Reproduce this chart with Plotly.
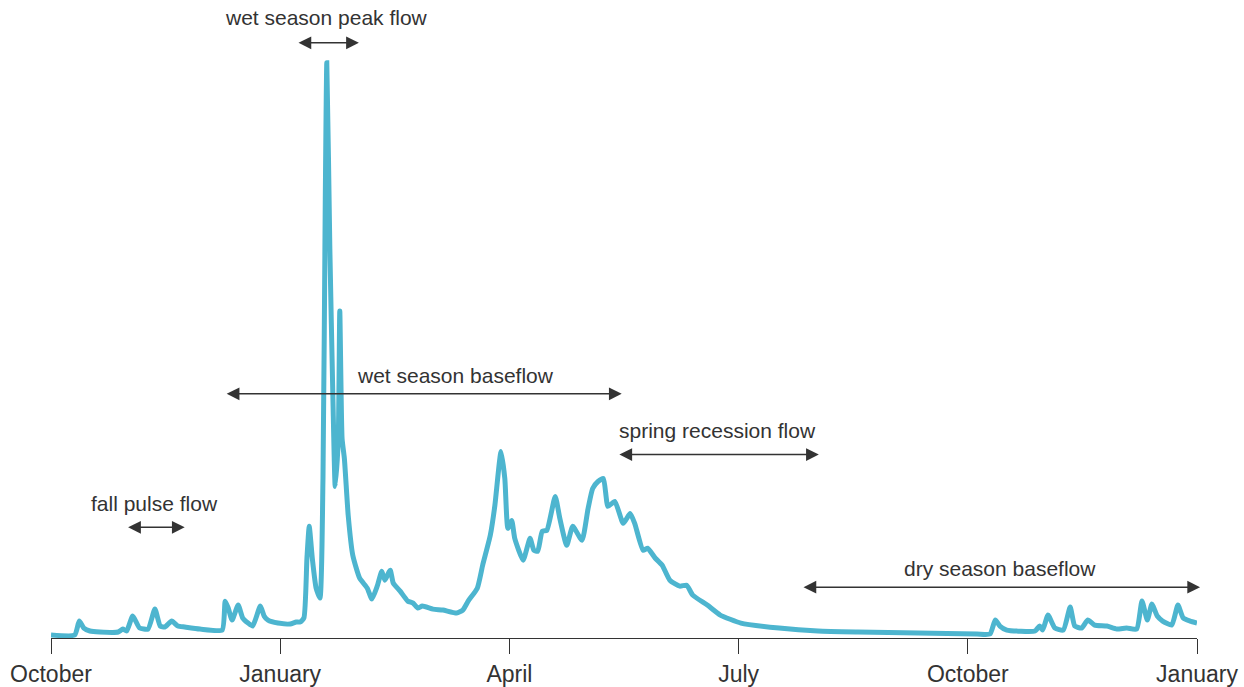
import plotly.graph_objects as go

# Months elapsed since 1 October (0 = October, 15 = January of the following year)
months = [0.00, 0.31, 0.37, 0.43, 0.51, 0.64, 0.88, 0.94, 0.99, 1.07, 1.16, 1.27, 1.36, 1.43, 1.49,
          1.58, 1.66, 1.75, 1.95, 2.24, 2.28, 2.32, 2.37, 2.45, 2.51, 2.58, 2.64, 2.74, 2.79, 2.84,
          2.97, 3.13, 3.21, 3.26, 3.31, 3.35, 3.38, 3.42, 3.47, 3.52, 3.56, 3.59, 3.61, 3.65, 3.69,
          3.72, 3.76, 3.78, 3.81, 3.84, 3.89, 3.95, 4.04, 4.14, 4.20, 4.27, 4.33, 4.37, 4.44, 4.48,
          4.57, 4.67, 4.74, 4.80, 4.86, 5.00, 5.13, 5.31, 5.39, 5.46, 5.58, 5.65, 5.75, 5.81, 5.89,
          5.94, 5.98, 6.03, 6.07, 6.18, 6.27, 6.32, 6.37, 6.43, 6.49, 6.60, 6.66, 6.75, 6.83, 6.95,
          7.03, 7.09, 7.16, 7.23, 7.29, 7.38, 7.49, 7.58, 7.64, 7.75, 7.81, 7.91, 8.00, 8.10, 8.23,
          8.32, 8.40, 8.59, 8.76, 9.03, 9.53, 10.04, 10.56, 11.35, 12.12, 12.29, 12.36, 12.42, 12.51,
          12.88, 12.94, 12.98, 13.05, 13.14, 13.25, 13.34, 13.40, 13.49, 13.57, 13.66, 13.82, 13.95,
          14.08, 14.21, 14.28, 14.35, 14.41, 14.48, 14.55, 14.67, 14.75, 14.82, 14.91, 15.00]

# Streamflow (relative units)
flow = [3, 3, 17, 10, 7, 6, 6, 9, 7, 22, 10, 9, 29, 12, 11,
        17, 12, 11, 9, 8, 37, 30, 18, 33, 20, 15, 12, 32, 22, 18,
        15, 14, 16, 16, 20, 80, 112, 80, 50, 40, 160, 440, 577, 390, 240,
        152, 200, 328, 200, 180, 123, 83, 60, 50, 39, 52, 67, 58, 68, 55,
        47, 37, 35, 30, 32, 29, 28, 25, 28, 37, 50, 73, 103, 133, 187,
        160, 110, 118, 100, 78, 100, 88, 87, 107, 108, 142, 120, 93, 112, 98,
        130, 150, 157, 160, 132, 137, 115, 125, 115, 88, 90, 80, 73, 58, 52,
        53, 43, 33, 23, 15, 10, 7, 6, 5, 4, 4, 18, 12, 8,
        7, 12, 8, 23, 10, 8, 31, 12, 10, 18, 13, 12, 9,
        10, 9, 37, 18, 34, 22, 17, 13, 33, 20, 17, 15]

tick_vals = [0, 3, 6, 9, 12, 15]
tick_text = ["October", "January", "April", "July", "October", "January"]

# Flow-period labels and their spans (months since October)
period_labels = ["wet season peak flow", "fall pulse flow", "wet season baseflow",
                 "spring recession flow", "dry season baseflow"]
period_start = [3.22, 0.99, 2.28, 7.42, 9.83]
period_end = [4.03, 1.75, 7.47, 10.05, 15.04]
label_x = [3.61, 1.36, 5.30, 8.72, 12.42]
label_y = [622, 135, 263, 208, 70]
arrow_y = [597, 111, 245, 184, 51]

FONT = "Liberation Sans, Arial, sans-serif"

fig = go.Figure()
fig.add_trace(go.Scatter(
    x=months, y=flow, mode="lines",
    line=dict(color="#4DB5CF", width=5, shape="spline", smoothing=0.5),
    hoverinfo="skip", showlegend=False,
))

annotations = []
for lab, s, e, lx, ly, ay in zip(period_labels, period_start, period_end, label_x, label_y, arrow_y):
    annotations.append(dict(
        x=lx, y=ly, xref="x", yref="y", text=lab, showarrow=False,
        font=dict(family=FONT, size=21, color="#333333"),
        xanchor="center", yanchor="middle",
    ))
    annotations.append(dict(
        x=e, y=ay, ax=s, ay=ay, xref="x", yref="y", axref="x", ayref="y",
        text="", showarrow=True, arrowhead=2, startarrowhead=2, arrowside="end+start",
        arrowsize=1.7, startarrowsize=1.7, arrowwidth=1.5, arrowcolor="#333333",
    ))

fig.update_layout(
    width=1244, height=687,
    margin=dict(l=51, r=47, t=0, b=47),
    paper_bgcolor="white", plot_bgcolor="white",
    annotations=annotations,
    xaxis=dict(
        range=[0, 15], tickmode="array", tickvals=tick_vals, ticktext=tick_text,
        showline=True, linecolor="#333333", linewidth=1,
        ticks="outside", ticklen=15, tickwidth=1, tickcolor="#333333",
        showgrid=False, zeroline=False,
        tickfont=dict(family=FONT, size=23, color="#333333"),
    ),
    yaxis=dict(range=[0, 640], visible=False, showgrid=False, zeroline=False),
)

fig.write_html("out.html", config={"displayModeBar": False},
               post_script="document.body.style.margin='0';")
